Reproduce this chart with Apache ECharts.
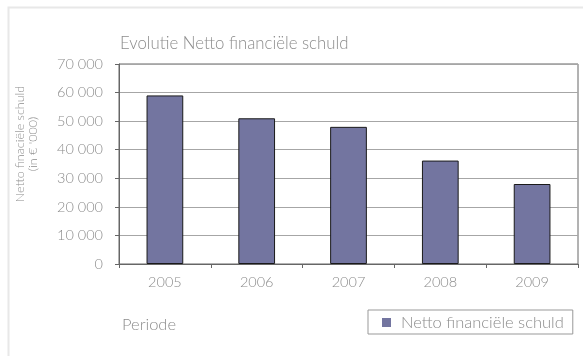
<!DOCTYPE html>
<html>
<head>
<meta charset="utf-8">
<script src="https://cdn.jsdelivr.net/npm/echarts@6/dist/echarts.min.js"></script>
<style>
  html, body { margin: 0; padding: 0; background: #fff; }
  #chart { width: 583px; height: 356px; }
</style>
</head>
<body>
<div id="chart"></div>
<script>
// Netto financiële schuld per jaar (in € '000)
const years = ['2005', '2006', '2007', '2008', '2009'];
const schuld = [59000, 51000, 48000, 36200, 28000];
const yTicks = { min: 0, max: 70000, interval: 10000 };

const FONT = 'Lato';
const GREY = '#8c8c8c';

const chart = echarts.init(document.getElementById('chart'), null, { renderer: 'canvas' });

chart.setOption({
  backgroundColor: '#fff',
  animation: false,
  textStyle: { fontFamily: FONT, fontWeight: 300 },
  title: {
    text: 'Evolutie Netto financiële schuld',
    left: 115,
    top: 30,
    textStyle: { fontFamily: FONT, fontWeight: 300, fontSize: 16.8, color: GREY }
  },
  grid: {
    left: 119, right: 5, top: 64, bottom: 92,
    show: true, borderColor: '#666', borderWidth: 1
  },
  legend: {
    data: ['Netto financiële schuld'],
    left: 368, top: 310,
    icon: 'rect',
    itemWidth: 9, itemHeight: 9,
    itemGap: 0,
    padding: [4, 9, 3, 14],
    borderColor: '#999', borderWidth: 1,
    itemStyle: { borderWidth: 0 },
    textStyle: { fontFamily: FONT, fontWeight: 300, fontSize: 16.5, color: GREY, padding: [0, 0, 0, 5] }
  },
  xAxis: {
    type: 'category',
    data: years,
    axisLine: { lineStyle: { color: '#666' } },
    axisTick: { show: true, length: 4, lineStyle: { color: '#666' } },
    axisLabel: { margin: 11, fontFamily: FONT, fontWeight: 300, fontSize: 14.5, color: GREY }
  },
  yAxis: {
    type: 'value',
    min: yTicks.min, max: yTicks.max, interval: yTicks.interval,
    axisLine: { show: true, lineStyle: { color: '#666' } },
    axisTick: { show: true, length: 4, lineStyle: { color: '#666' } },
    splitLine: { lineStyle: { color: '#a6a6a6' } },
    axisLabel: {
      margin: 16, fontFamily: FONT, fontWeight: 300, fontSize: 14.5, color: GREY,
      formatter: v => String(v).replace(/\B(?=(\d{3})+(?!\d))/g, ' ')
    }
  },
  series: [{
    name: 'Netto financiële schuld',
    type: 'bar',
    data: schuld,
    barWidth: '40%',
    itemStyle: { color: '#7375a0', borderColor: '#1a1a1a', borderWidth: 1 }
  }],
  graphic: [
    {
      type: 'rect', silent: true, z: -10,
      shape: { x: 8.5, y: 7.5, width: 600, height: 400 },
      style: { fill: 'none', stroke: '#e8e8e8', lineWidth: 2 }
    },
    {
      type: 'text', x: 26, y: 144, rotation: Math.PI / 2,
      style: {
        text: 'Netto finaciële schuld\n(in € \'000)',
        fontFamily: FONT, fontWeight: 300, fontSize: 12.5, lineHeight: 13,
        fill: GREY, align: 'center', verticalAlign: 'middle'
      }
    },
    {
      type: 'text', x: 122, y: 325,
      style: {
        text: 'Periode', fontFamily: FONT, fontWeight: 300, fontSize: 16.5,
        fill: GREY, align: 'left', verticalAlign: 'middle'
      }
    }
  ]
});
</script>
</body>
</html>
